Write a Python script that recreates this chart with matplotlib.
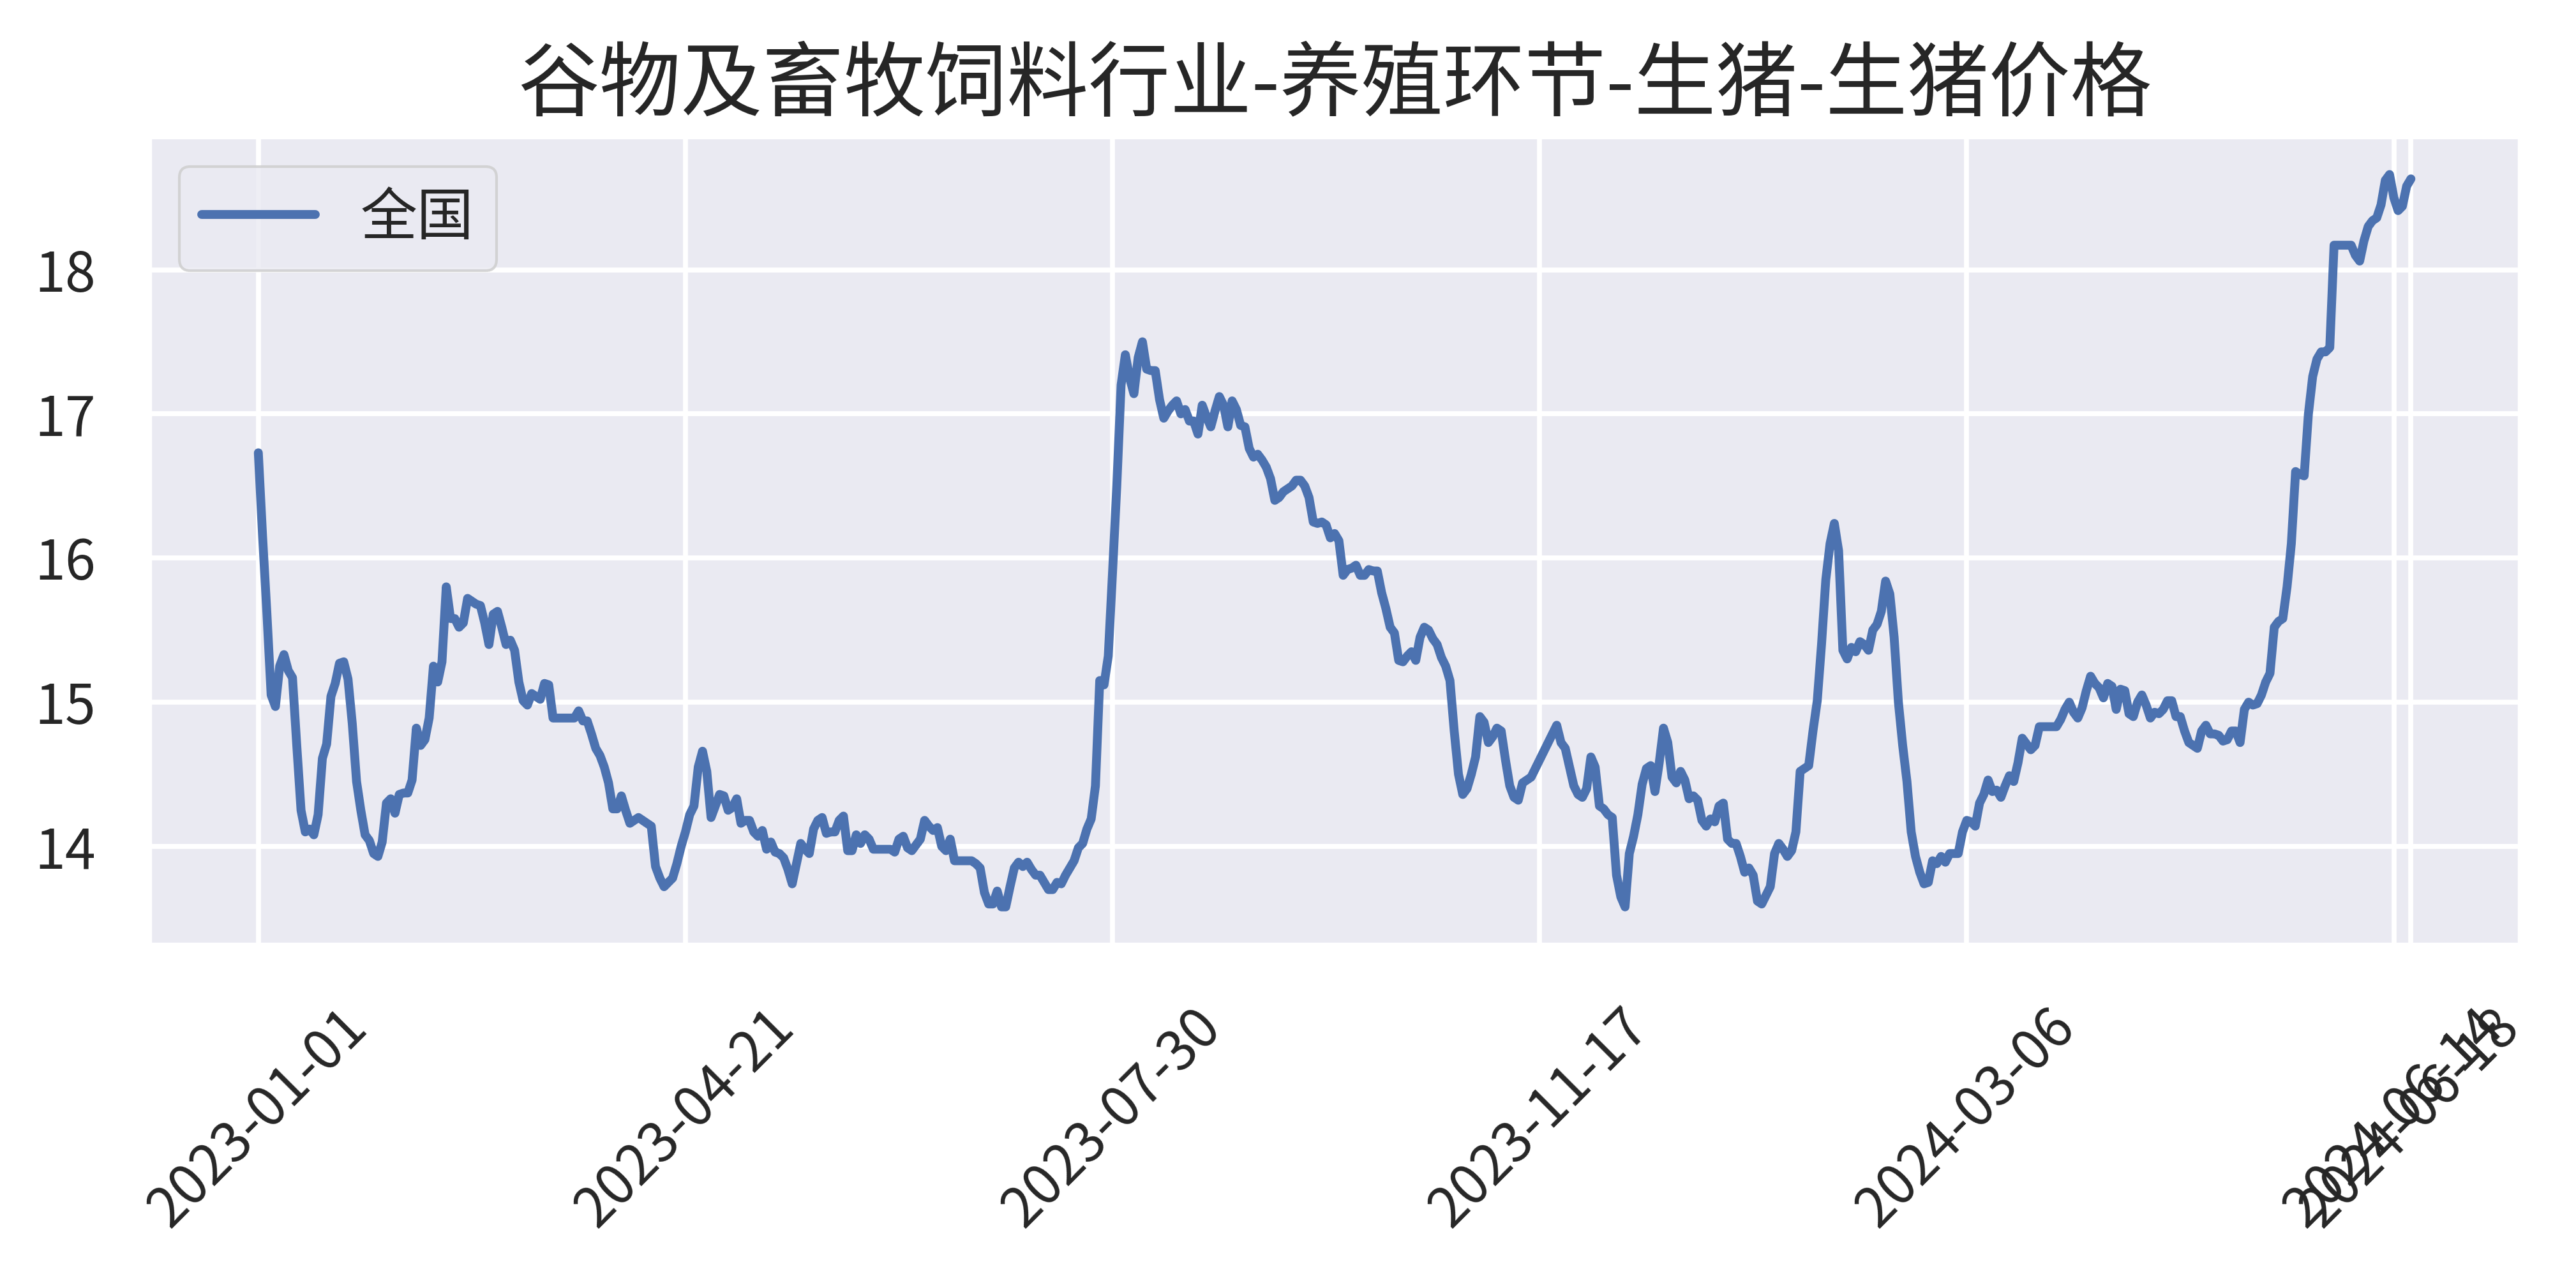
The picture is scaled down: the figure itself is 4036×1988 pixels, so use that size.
import matplotlib
matplotlib.use("Agg")
import matplotlib.pyplot as plt
import seaborn as sns

price = [
    16.73, 16.15, 15.62, 15.05, 14.97, 15.25, 15.33, 15.22, 15.17, 14.70,
    14.25, 14.10, 14.12, 14.08, 14.22, 14.61, 14.71, 15.04, 15.13, 15.27,
    15.28, 15.16, 14.85, 14.45, 14.25, 14.08, 14.04, 13.95, 13.93, 14.03,
    14.30, 14.33, 14.23, 14.36, 14.37, 14.37, 14.46, 14.82, 14.70, 14.74,
    14.89, 15.25, 15.14, 15.28, 15.80, 15.58, 15.58, 15.52, 15.55, 15.72,
    15.70, 15.68, 15.67, 15.55, 15.40, 15.61, 15.63, 15.52, 15.40, 15.43,
    15.36, 15.14, 15.01, 14.98, 15.06, 15.04, 15.02, 15.13, 15.12, 14.89,
    14.89, 14.89, 14.89, 14.89, 14.89, 14.94, 14.87, 14.87, 14.78, 14.68,
    14.63, 14.55, 14.44, 14.26, 14.26, 14.35, 14.25, 14.16, 14.18, 14.20,
    14.18, 14.16, 14.14, 13.86, 13.78, 13.72, 13.75, 13.78, 13.88, 14.00,
    14.10, 14.22, 14.28, 14.55, 14.66, 14.52, 14.20, 14.28, 14.36, 14.35,
    14.25, 14.27, 14.33, 14.16, 14.18, 14.18, 14.10, 14.07, 14.11, 13.98,
    14.03, 13.96, 13.95, 13.92, 13.84, 13.74, 13.88, 14.02, 13.98, 13.95,
    14.12, 14.18, 14.20, 14.09, 14.10, 14.10, 14.18, 14.21, 13.97, 13.97,
    14.08, 14.02, 14.08, 14.05, 13.98, 13.98, 13.98, 13.98, 13.98, 13.96,
    14.05, 14.07, 13.99, 13.97, 14.01, 14.05, 14.18, 14.14, 14.11, 14.13,
    14.00, 13.97, 14.05, 13.90, 13.90, 13.90, 13.90, 13.90, 13.88, 13.85,
    13.68, 13.60, 13.60, 13.69, 13.58, 13.58, 13.72, 13.85, 13.89, 13.86,
    13.89, 13.84, 13.80, 13.80, 13.75, 13.70, 13.70, 13.75, 13.74, 13.80,
    13.85, 13.90, 13.99, 14.02, 14.12, 14.19, 14.42, 15.15, 15.12, 15.32,
    15.90, 16.50, 17.20, 17.41, 17.25, 17.14, 17.39, 17.50, 17.31, 17.30,
    17.30, 17.10, 16.97, 17.02, 17.06, 17.09, 17.00, 17.03, 16.95, 16.95,
    16.86, 17.06, 16.98, 16.91, 17.02, 17.12, 17.06, 16.91, 17.09, 17.03,
    16.92, 16.91, 16.76, 16.70, 16.72, 16.68, 16.63, 16.55, 16.40, 16.42,
    16.46, 16.48, 16.50, 16.54, 16.54, 16.50, 16.42, 16.25, 16.24, 16.25,
    16.23, 16.14, 16.17, 16.12, 15.88, 15.92, 15.93, 15.95, 15.88, 15.88,
    15.92, 15.91, 15.91, 15.76, 15.65, 15.52, 15.48, 15.29, 15.28, 15.32,
    15.35, 15.29, 15.45, 15.52, 15.50, 15.44, 15.40, 15.31, 15.25, 15.15,
    14.80, 14.50, 14.36, 14.40, 14.50, 14.62, 14.90, 14.86, 14.72, 14.76,
    14.82, 14.80, 14.60, 14.42, 14.34, 14.32, 14.44, 14.46, 14.48, 14.54,
    14.60, 14.66, 14.72, 14.78, 14.84, 14.72, 14.68, 14.55, 14.42, 14.36,
    14.34, 14.40, 14.62, 14.55, 14.28, 14.26, 14.22, 14.20, 13.80, 13.65,
    13.58, 13.95, 14.07, 14.22, 14.43, 14.54, 14.56, 14.38, 14.58, 14.82,
    14.72, 14.48, 14.44, 14.52, 14.46, 14.33, 14.35, 14.32, 14.18, 14.14,
    14.19, 14.17, 14.28, 14.30, 14.05, 14.02, 14.02, 13.93, 13.82, 13.85,
    13.80, 13.62, 13.60, 13.66, 13.72, 13.95, 14.02, 13.98, 13.93, 13.97,
    14.10, 14.52, 14.54, 14.56, 14.80, 15.01, 15.40, 15.85, 16.10, 16.24,
    16.05, 15.36, 15.30, 15.38, 15.35, 15.42, 15.40, 15.36, 15.50, 15.54,
    15.63, 15.84, 15.75, 15.45, 15.00, 14.70, 14.45, 14.10, 13.93, 13.82,
    13.74, 13.75, 13.90, 13.88, 13.93, 13.89, 13.95, 13.95, 13.95, 14.10,
    14.18, 14.17, 14.14, 14.30, 14.36, 14.46, 14.38, 14.39, 14.34, 14.42,
    14.49, 14.45, 14.58, 14.75, 14.71, 14.67, 14.70, 14.83, 14.83, 14.83,
    14.83, 14.83, 14.88, 14.95, 15.00, 14.93, 14.89, 14.96, 15.08, 15.18,
    15.13, 15.10, 15.03, 15.13, 15.11, 14.95, 15.09, 15.08, 14.92, 14.90,
    15.00, 15.05, 14.98, 14.89, 14.93, 14.92, 14.95, 15.01, 15.01, 14.90,
    14.90, 14.80, 14.72, 14.70, 14.68, 14.80, 14.84, 14.78, 14.78, 14.77,
    14.73, 14.74, 14.80, 14.80, 14.72, 14.95, 15.00, 14.98, 14.99, 15.05,
    15.14, 15.20, 15.52, 15.56, 15.58, 15.80, 16.10, 16.60, 16.58, 16.57,
    17.00, 17.26, 17.38, 17.43, 17.43, 17.46, 18.17, 18.17, 18.17, 18.17,
    18.17, 18.10, 18.06, 18.20, 18.30, 18.34, 18.36, 18.45, 18.62, 18.66,
    18.50, 18.41, 18.44, 18.58, 18.63,
]

# observation numbers that carry a date label
tick_obs = [0, 100, 200, 300, 400, 500, 504]
tick_dates = ["2023-01-01", "2023-04-21", "2023-07-30", "2023-11-17",
              "2024-03-06", "2024-06-14", "2024-06-18"]

title = "谷物及畜牧饲料行业-养殖环节-生猪-生猪价格"
series_name = "全国"

sns.set_theme(style="darkgrid")
plt.rcParams["font.family"] = ["Noto Sans CJK SC", "DejaVu Sans"]
plt.rcParams["axes.unicode_minus"] = False

fig = plt.figure(figsize=(20.18, 9.94), dpi=200)
ax = fig.add_axes([0.0585, 0.2565, 0.9192, 0.6348])

ax.plot(range(len(price)), price, color="#4C72B0", linewidth=5, label=series_name)

ax.set_xticks(tick_obs)
ax.set_xticklabels(tick_dates, rotation=45)
ax.tick_params(axis="both", labelsize=31, pad=31, length=0)
ax.grid(True, linewidth=2.8)

ax.set_title(title, fontsize=46, pad=16)
leg = ax.legend(loc="upper left", fontsize=32)
leg.get_frame().set_linewidth(1.5)

fig.savefig("out.png", dpi=200)
plt.close("all")
